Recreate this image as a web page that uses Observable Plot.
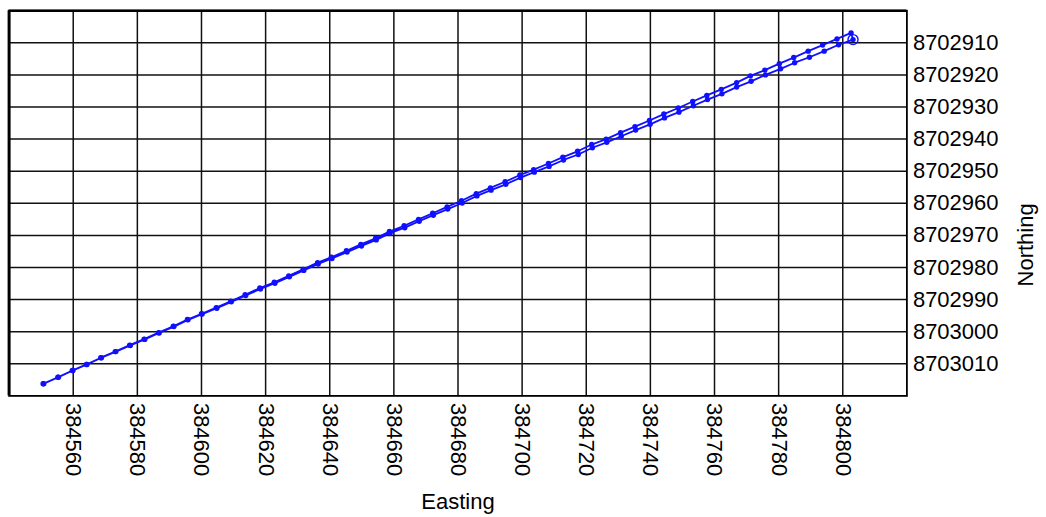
<!DOCTYPE html>
<html>
<head>
<meta charset="utf-8">
<script src="https://cdn.jsdelivr.net/npm/d3@7"></script>
<script src="https://cdn.jsdelivr.net/npm/@observablehq/plot@0.6"></script>
<style>
  html, body { margin: 0; padding: 0; background: #fff; }
  #chart svg { display: block; }
</style>
</head>
<body>
<div id="chart"></div>
<script>
// Tick values
const xTicks = [384560, 384580, 384600, 384620, 384640, 384660, 384680, 384700, 384720, 384740, 384760, 384780, 384800];
const yTicks = [8702910, 8702920, 8702930, 8702940, 8702950, 8702960, 8702970, 8702980, 8702990, 8703000, 8703010];

// Outbound survey line (upper track)
const outEasting = [384550.6, 384555.2, 384559.7, 384564.1, 384568.6, 384573.1, 384577.6, 384582.1, 384586.6, 384591.2,
  384595.6, 384600.0, 384604.6, 384609.1, 384613.6, 384618.2, 384622.7, 384627.2, 384631.7, 384636.2,
  384640.5, 384645.2, 384649.7, 384654.3, 384658.6, 384663.2, 384667.7, 384672.1, 384676.6, 384681.1,
  384685.7, 384690.1, 384694.7, 384699.3, 384703.6, 384708.2, 384712.7, 384717.3, 384721.7, 384726.2,
  384730.7, 384735.2, 384739.7, 384744.2, 384748.7, 384753.2, 384757.6, 384762.1, 384766.9, 384771.2,
  384775.7, 384780.2, 384784.7, 384789.2, 384793.7, 384798.2, 384802.6];
const outNorthing = [8703016.2, 8703014.2, 8703012.1, 8703010.2, 8703008.1, 8703006.2, 8703004.2, 8703002.3, 8703000.3, 8702998.3,
  8702996.2, 8702994.4, 8702992.5, 8702990.5, 8702988.5, 8702986.4, 8702984.6, 8702982.6, 8702980.6, 8702978.5,
  8702976.8, 8702974.8, 8702972.8, 8702970.9, 8702968.8, 8702967.0, 8702965.0, 8702963.1, 8702961.1, 8702959.2,
  8702957.0, 8702955.2, 8702953.3, 8702951.2, 8702949.5, 8702947.6, 8702945.6, 8702943.8, 8702941.7, 8702940.0,
  8702938.0, 8702936.1, 8702934.2, 8702932.2, 8702930.3, 8702928.3, 8702926.4, 8702924.5, 8702922.4, 8702920.3,
  8702918.5, 8702916.5, 8702914.6, 8702912.6, 8702910.7, 8702908.8, 8702906.9];

// Turn-around station (circled)
const stationEasting = [384803.2];
const stationNorthing = [8702909.0];

// Return survey line (lower track)
const backEasting = [384798.7, 384794.2, 384789.6, 384785.0, 384780.6, 384775.9, 384771.4, 384766.9,
  384762.3, 384757.8, 384753.4, 384748.9, 384744.4, 384739.9, 384735.4, 384730.9, 384726.4, 384721.9,
  384717.5, 384712.9, 384708.4, 384703.8, 384699.5, 384694.9, 384690.3, 384685.9, 384681.3, 384676.8,
  384672.3, 384667.9, 384663.4, 384658.8, 384654.5, 384649.9, 384645.4, 384640.7, 384636.4, 384631.9,
  384627.4, 384622.9, 384618.4, 384613.8, 384609.3, 384604.8, 384600.2, 384595.8, 384591.4, 384586.8,
  384582.3, 384577.8, 384573.3, 384568.8, 384564.3, 384559.9, 384555.4, 384550.8];
const backNorthing = [8702910.6, 8702912.6, 8702914.5, 8702916.2, 8702918.1, 8702920.0, 8702922.0, 8702923.8,
  8702925.9, 8702927.7, 8702929.6, 8702931.6, 8702933.4, 8702935.4, 8702937.2, 8702939.1, 8702941.0, 8702942.7,
  8702944.8, 8702946.5, 8702948.5, 8702950.3, 8702952.0, 8702954.1, 8702955.9, 8702957.7, 8702959.9, 8702961.8,
  8702963.7, 8702965.6, 8702967.6, 8702969.3, 8702971.4, 8702973.3, 8702975.2, 8702977.2, 8702978.9, 8702980.9,
  8702982.9, 8702984.9, 8702986.7, 8702988.7, 8702990.7, 8702992.7, 8702994.5, 8702996.3, 8702998.4, 8703000.4,
  8703002.4, 8703004.3, 8703006.2, 8703008.1, 8703010.2, 8703012.1, 8703014.2, 8703016.2];

const rows = (es, ns) => es.map((e, i) => ({e, n: ns[i]}));
const outRows = rows(outEasting, outNorthing);
const stationRows = rows(stationEasting, stationNorthing);
const backRows = rows(backEasting, backNorthing);
const pathRows = [...outRows, ...stationRows, ...backRows];

const blue = "#1010ff";
const fmt = d => String(d);

const chart = Plot.plot({
  width: 1046,
  height: 517,
  marginLeft: 8.6,
  marginRight: 139.6,
  marginTop: 10.2,
  marginBottom: 121.6,
  x: {domain: [384540, 384820]},
  y: {domain: [8702900, 8703020], reverse: true},
  style: {fontFamily: "'Liberation Sans', Arial, sans-serif", fontSize: "22px", color: "#000", background: "#fff"},
  marks: [
    Plot.ruleX(xTicks, {stroke: "#111", strokeWidth: 1.5}),
    Plot.ruleY(yTicks, {stroke: "#111", strokeWidth: 1.5}),
    Plot.frame({stroke: "#000", strokeWidth: 1.8}),
    Plot.ruleX([384540], {stroke: "#000", strokeWidth: 3}),
    Plot.ruleY([8702900], {stroke: "#000", strokeWidth: 2.4}),
    Plot.axisX(xTicks, {tickRotate: 90, tickSize: 0, tickPadding: 7, tickFormat: fmt, label: null, fill: "#000"}),
    Plot.axisY(yTicks, {anchor: "right", tickSize: 0, tickPadding: 6, tickFormat: fmt, label: null, fill: "#000"}),
    Plot.line(pathRows, {x: "e", y: "n", stroke: blue, strokeWidth: 1.8}),
    Plot.dot(pathRows, {x: "e", y: "n", r: 2.7, fill: blue, stroke: "none"}),
    Plot.dot(stationRows, {x: "e", y: "n", r: 5, fill: "none", stroke: blue, strokeWidth: 1.4}),
    Plot.text(["Easting"], {frameAnchor: "bottom", text: d => d, dy: 106, lineAnchor: "middle", fill: "#000"}),
    Plot.text(["Northing"], {frameAnchor: "right", text: d => d, dx: 118.6, rotate: -90, lineAnchor: "middle", fill: "#000"})
  ]
});
document.getElementById("chart").appendChild(chart);
</script>
</body>
</html>
